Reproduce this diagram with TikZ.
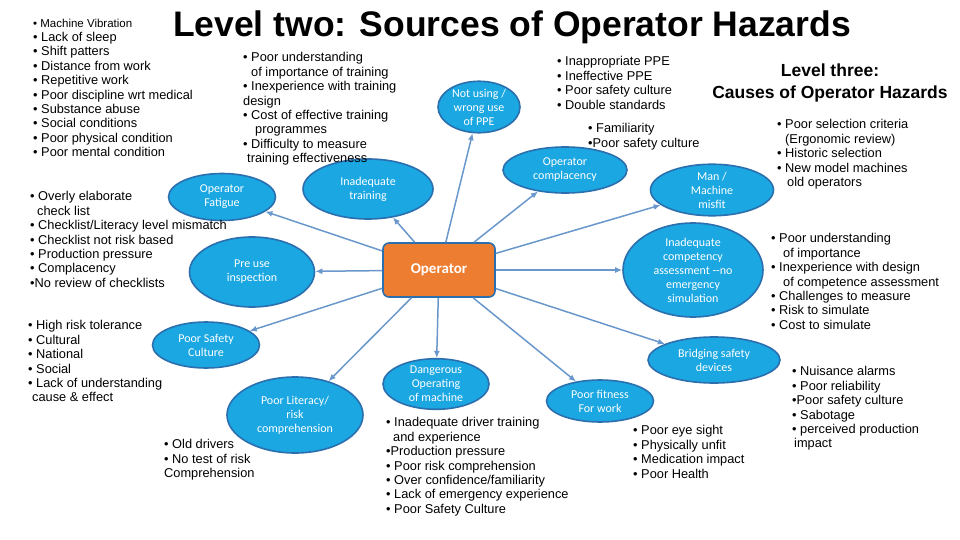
\documentclass[tikz,border=0pt]{standalone}
\usepackage{fontspec}
\setmainfont{Liberation Sans}
\newfontfamily\carfont{Carlito}
\usetikzlibrary{arrows.meta,shapes.geometric}
\definecolor{efill}{HTML}{1AA7E2}
\definecolor{edraw}{HTML}{2B6FAE}
\definecolor{arr}{HTML}{6A98CC}
\definecolor{ofill}{HTML}{ED7D31}
\begin{document}
\begin{tikzpicture}[x=1pt,y=-1pt,
 ell/.style={ellipse,draw=edraw,line width=1.6pt,fill=efill,text=white,font=\carfont\fontsize{12}{14}\selectfont,align=center,inner sep=0pt},
 blk/.style={anchor=north west,inner sep=0pt,align=left,font=\fontsize{12.8}{14.4}\selectfont},
 con/.style={draw=arr,line width=1.5pt,-{Latex[length=7pt,width=6pt]}}]
\useasboundingbox (0,0) rectangle (960,540);
\fill[white] (0,0) rectangle (960,540);
\node[font=\bfseries\fontsize{35.5}{40}\selectfont] (title) at (512,27) {Level two: Sources of Operator Hazards};
\node[font=\bfseries\fontsize{17.5}{22}\selectfont,align=center] (l3) at (830,83) {Level three:\\Causes of Operator Hazards};

\node[draw=edraw,line width=1.6pt,fill=ofill,rounded corners=6pt,minimum width=112pt,minimum height=54pt,text=white,font=\carfont\bfseries\fontsize{15}{16}\selectfont] (op) at (439,270) {Operator};

\node[ell,minimum width=107pt,minimum height=47pt] (fat) at (222,197) {Operator\\Fatigue};
\node[ell,minimum width=130pt,minimum height=60pt] (tr) at (368,189) {Inadequate\\training};
\node[ell,minimum width=125pt,minimum height=70pt] (pre) at (252,272) {Pre use\\inspection};
\node[ell,minimum width=82pt,minimum height=43pt] (ppe) at (479,107) {Not using /\\wrong use\\of PPE};
\node[ell,minimum width=124pt,minimum height=46pt] (comp) at (565,170) {Operator\\complacency};
\node[ell,minimum width=123pt,minimum height=45pt] (man) at (712,190) {Man /\\Machine\\misfit};
\node[ell,minimum width=140pt,minimum height=94pt] (ica) at (693,270) {Inadequate\\competency\\assessment --no\\emergency\\simulation};
\node[ell,minimum width=132pt,minimum height=46pt] (bri) at (714,360) {Bridging safety\\devices};
\node[ell,minimum width=107pt,minimum height=42pt] (fit) at (600,401) {Poor fitness\\For work};
\node[ell,minimum width=106pt,minimum height=45pt] (dan) at (436,384) {Dangerous\\Operating\\of machine};
\node[ell,minimum width=136pt,minimum height=76pt] (lit) at (295,415) {Poor Literacy/\\risk\\comprehension};
\node[ell,minimum width=107pt,minimum height=46pt] (psc) at (206,345) {Poor Safety\\Culture};

\foreach \t in {fat,tr,pre,ppe,comp,man,ica,bri,fit,dan,lit,psc}
  \draw[con] (op) -- (\t);

\node[blk] (b1) at (33,18.5) {{\fontsize{11.5}{14.4}\selectfont • Machine Vibration}\\• Lack of sleep\\• Shift patters\\• Distance from work\\• Repetitive work\\• Poor discipline wrt medical\\• Substance abuse\\• Social conditions\\• Poor physical condition\\• Poor mental condition};
\node[blk] (b2) at (30,191.5) {• Overly elaborate\\\hspace*{7pt}check list\\• Checklist/Literacy level mismatch\\• Checklist not risk based\\• Production pressure\\• Complacency\\•No review of checklists};
\node[blk] (b3) at (28,320.5) {• High risk tolerance\\• Cultural\\• National\\• Social\\• Lack of understanding\\\hspace*{4pt}cause \& effect};
\node[blk] (b4) at (243,52.5) {• Poor understanding\\\hspace*{8pt}of importance of training\\• Inexperience with training\\design\\• Cost of effective training\\\hspace*{12pt}programmes\\• Difficulty to measure\\\hspace*{4pt}training effectiveness};
\node[blk] (b5) at (557,56.5) {• Inappropriate PPE\\• Ineffective PPE\\• Poor safety culture\\• Double standards};
\node[blk] (b6) at (588,123.5) {• Familiarity\\•Poor safety culture};
\node[blk] (b7) at (777,119.5) {• Poor selection criteria\\\hspace*{8pt}(Ergonomic review)\\• Historic selection\\• New model machines\\\hspace*{10pt}old operators};
\node[blk] (b8) at (771,233.5) {• Poor understanding\\\hspace*{12pt}of importance\\• Inexperience with design\\\hspace*{12pt}of competence assessment\\• Challenges to measure\\• Risk to simulate\\• Cost to simulate};
\node[blk] (b9) at (792,366.5) {• Nuisance alarms\\• Poor reliability\\•Poor safety culture\\• Sabotage\\• perceived production\\\hspace*{2pt}impact};
\node[blk] (b10) at (633,425.5) {• Poor eye sight\\• Physically unfit\\• Medication impact\\• Poor Health};
\node[blk] (b11) at (386,417.5) {• Inadequate driver training\\\hspace*{7pt}and experience\\•Production pressure\\• Poor risk comprehension\\• Over confidence/familiarity\\• Lack of emergency experience\\• Poor Safety Culture};
\node[blk] (b12) at (164,439.5) {• Old drivers\\• No test of risk\\Comprehension};
\end{tikzpicture}
\end{document}
